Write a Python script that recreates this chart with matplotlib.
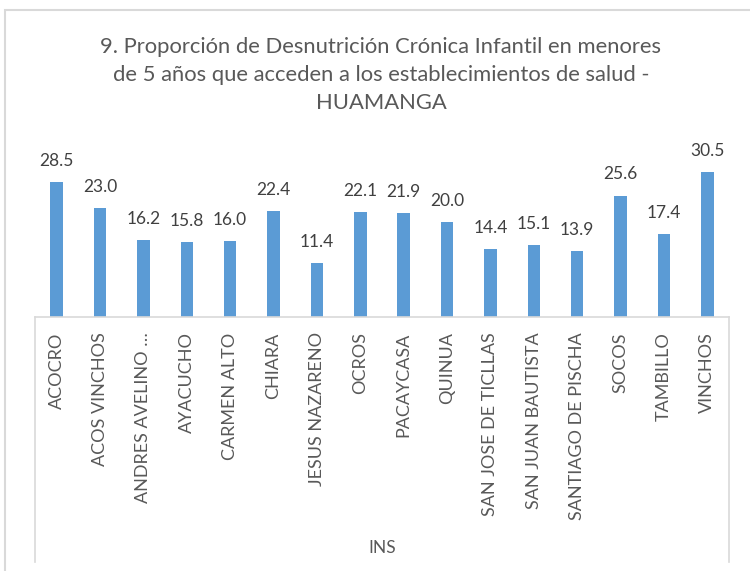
import matplotlib
matplotlib.use("Agg")
import matplotlib.pyplot as plt
from matplotlib.lines import Line2D
from matplotlib.patches import Rectangle

categories = ["ACOCRO", "ACOS VINCHOS", "ANDRES AVELINO …", "AYACUCHO", "CARMEN ALTO",
              "CHIARA", "JESUS NAZARENO", "OCROS", "PACAYCASA", "QUINUA",
              "SAN JOSE DE TICLLAS", "SAN JUAN BAUTISTA", "SANTIAGO DE PISCHA",
              "SOCOS", "TAMBILLO", "VINCHOS"]
values = [28.5, 23.0, 16.2, 15.8, 16.0, 22.4, 11.4, 22.1, 21.9, 20.0,
          14.4, 15.1, 13.9, 25.6, 17.4, 30.5]
group_label = "INS"
title = ("9. Proporción de Desnutrición Crónica Infantil en menores\n"
         "de 5 años que acceden a los establecimientos de salud -\nHUAMANGA")

W, H = 750, 571
plt.rcParams['font.family'] = ['Lato', 'DejaVu Sans']
fig = plt.figure(figsize=(W / 100, H / 100), dpi=100)
fig.patch.set_facecolor("white")

txt = "#595959"
grid = "#D9D9D9"

# outer chart border (cropped on right/bottom)
fig.add_artist(Rectangle((5 / W, -0.1), 1.2, 1 - 10 / H + 0.1, transform=fig.transFigure,
                         fill=False, edgecolor=grid, linewidth=1.5))

x0, x1 = 35 / W, 729 / W
y_bot = 1 - 317 / H
y_top = 1 - 151 / H
ax = fig.add_axes([x0, y_bot, x1 - x0, y_top - y_bot])
n = len(categories)
xs = list(range(n))
ax.bar(xs, values, width=0.29, color="#5B9BD5")
ax.set_xlim(-0.5, n - 0.5)
ax.set_ylim(0, 35)
for x, v in zip(xs, values):
    ax.annotate(f"{v:.1f}", (x, v), xytext=(0, 9.5), textcoords="offset points",
                ha="center", va="bottom", fontsize=12.5, color="#404040")
for s in ["top", "right", "left"]:
    ax.spines[s].set_visible(False)
ax.spines["bottom"].set_color(grid)
ax.spines["bottom"].set_linewidth(1.2)
ax.set_yticks([])
ax.set_xticks(xs)
ax.set_xticklabels(categories, rotation=90, fontsize=13, color=txt, va="top", ha="center")
ax.tick_params(axis="x", length=0, pad=11)

# category axis group box lines
yb = 1 - 562 / H
for xx in (x0, x1):
    fig.add_artist(Line2D([xx, xx], [y_bot, yb], transform=fig.transFigure, color=grid, linewidth=1.2))
fig.text((x0 + x1) / 2, 1 - 548 / H, group_label, ha="center", va="center", fontsize=12.5, color=txt)

fig.text(381 / W, 1 - 75 / H, title, ha="center", va="center", fontsize=15.8, color=txt,
         linespacing=1.5)

fig.savefig("out.png", dpi=100)
